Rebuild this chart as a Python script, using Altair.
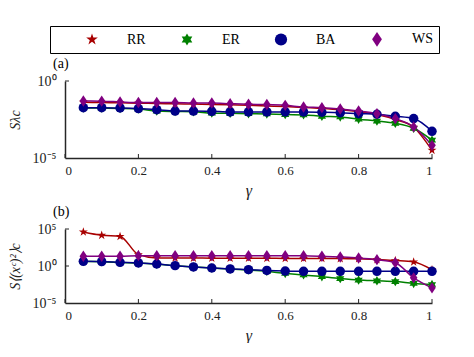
import altair as alt
import pandas as pd

gamma = [0.05, 0.10, 0.15, 0.20, 0.25, 0.30, 0.35, 0.40, 0.45, 0.50,
         0.55, 0.60, 0.65, 0.70, 0.75, 0.80, 0.85, 0.90, 0.95, 1.00]
series = ["RR", "ER", "BA", "WS"]
colors = ["#A80000", "#008000", "#000088", "#800080"]
star5 = ("M0,-1L0.225,-0.309L0.951,-0.309L0.363,0.118L0.588,0.809L0,0.382"
         "L-0.588,0.809L-0.363,0.118L-0.951,-0.309L-0.225,-0.309Z")
hexagram = ("M0,-1L0.289,-0.5L0.866,-0.5L0.577,0L0.866,0.5L0.289,0.5L0,1"
            "L-0.289,0.5L-0.866,0.5L-0.577,0L-0.866,-0.5L-0.289,-0.5Z")
tall_diamond = "M0,-1.2L0.8,0L0,1.2L-0.8,0Z"
shapes = [star5, hexagram, "circle", tall_diamond]

# panel (a): log10 of S_lambda_c
a_RR = [-1.38, -1.40, -1.42, -1.44, -1.46, -1.48, -1.50, -1.52, -1.55, -1.58,
        -1.62, -1.66, -1.72, -1.78, -1.86, -1.98, -2.18, -2.50, -3.00, -4.50]
a_ER = [-1.75, -1.76, -1.78, -1.82, -1.95, -1.98, -2.00, -2.08, -2.10, -2.12,
        -2.14, -2.18, -2.20, -2.29, -2.33, -2.48, -2.60, -2.75, -3.07, -3.84]
a_BA = [-1.73, -1.73, -1.75, -1.79, -1.86, -1.95, -1.95, -1.97, -2.01, -2.01,
        -2.01, -2.01, -2.01, -2.03, -2.06, -2.12, -2.16, -2.29, -2.44, -3.27]
a_WS = [-1.30, -1.31, -1.36, -1.40, -1.40, -1.40, -1.43, -1.43, -1.47, -1.51,
        -1.53, -1.58, -1.69, -1.73, -1.82, -1.95, -2.12, -2.44, -2.98, -4.18]

# panel (b): log10 of S_<(x^c)^2>_c
b_RR = [4.60, 4.15, 4.00, 1.54, 1.09, 1.08, 1.07, 1.06, 1.05, 1.05,
        1.04, 1.03, 1.02, 1.01, 1.00, 0.98, 0.86, 0.73, 0.54, -0.50]
b_ER = [0.60, 0.58, 0.48, 0.40, 0.25, 0.05, -0.13, -0.27, -0.42, -0.55,
        -0.72, -1.00, -1.20, -1.45, -1.70, -1.90, -2.00, -2.10, -2.35, -2.50]
b_BA = [0.63, 0.60, 0.50, 0.41, 0.27, 0.05, -0.13, -0.27, -0.40, -0.49,
        -0.60, -0.68, -0.72, -0.72, -0.72, -0.72, -0.72, -0.72, -0.72, -0.72]
b_WS = [1.31, 1.31, 1.31, 1.40, 1.40, 1.40, 1.40, 1.40, 1.40, 1.40,
        1.40, 1.40, 1.38, 1.31, 1.22, 1.09, 0.86, 0.45, -1.60, -2.95]

x_ticks = [0, 0.2, 0.4, 0.6, 0.8, 1]
FONT = "Liberation Serif"
AXC = "#262626"


def frame(cols):
    rows = []
    for name, vals in zip(series, cols):
        for g, v in zip(gamma, vals):
            rows.append({"gamma": g, "series": name, "val": 10 ** v})
    return pd.DataFrame(rows)


df_a = frame([a_RR, a_ER, a_BA, a_WS])
df_b = frame([b_RR, b_ER, b_BA, b_WS])

label_expr = "datum.value >= 99999 ? '10⁵' : (datum.value >= 0.99 ? '10⁰' : '10⁻⁵')"


def panel(df, ydom, yvals, ytitle, label, h):
    xenc = alt.X("gamma:Q", scale=alt.Scale(domain=[0, 1], nice=False),
                 axis=alt.Axis(values=x_ticks, format="~g", title="γ", ticks=False,
                               labelPadding=6, titlePadding=5, titleFontSize=16,
                               titleFontWeight="normal", titleFontStyle="italic",
                               labelFontSize=13, grid=False))
    yenc = alt.Y("val:Q", scale=alt.Scale(type="log", domain=ydom, nice=False),
                 axis=alt.Axis(values=yvals, labelExpr=label_expr, title=ytitle,
                               ticks=False, labelPadding=9, titlePadding=10,
                               titleFontSize=14, titleFontWeight="normal",
                               titleFontStyle="italic", labelFontSize=14, grid=False))
    color = alt.Color("series:N", scale=alt.Scale(domain=series, range=colors),
                      legend=alt.Legend(title="MM", titleOrient="left", titleColor="white",
                                        titleFont=FONT, titleFontSize=14, titlePadding=2,
                                        orient="none", legendX=-15, legendY=-55,
                                        direction="horizontal", columns=4,
                                        strokeColor="black",
                                        fillColor="white",
                                        padding=6, labelOffset=28, columnPadding=34,
                                        symbolSize=150, labelFont=FONT, labelFontSize=14,
                                        symbolStrokeWidth=0))
    shape = alt.Shape("series:N", scale=alt.Scale(domain=series, range=shapes))
    base = alt.Chart(df)
    lines = base.mark_line(interpolate="monotone", strokeWidth=1.5).encode(
        x=xenc, y=yenc, color=color)
    pts = base.mark_point(filled=True, size=90, opacity=1).encode(
        x=xenc, y=yenc, color=color, shape=shape)
    xt = alt.Chart(pd.DataFrame({"gamma": x_ticks})).mark_rule(color=AXC, strokeWidth=1).encode(
        x=xenc, y=alt.value(h), y2=alt.value(h - 4))
    yt = alt.Chart(pd.DataFrame({"val": yvals[1:]})).mark_rule(
        color=AXC, strokeWidth=1).encode(y=yenc, x=alt.value(0), x2=alt.value(4))
    return alt.layer(lines, pts, xt, yt).properties(
        width=367, height=h,
        title=alt.TitleParams(label, anchor="start", font=FONT, fontSize=14,
                              fontWeight="normal", offset=3, dx=45))


pa = panel(df_a, [1e-5, 1], [1e-5, 1], "Sλc", "(a)", 77)
pb = panel(df_b, [1e-5, 1e5], [1e-5, 1, 1e5], "S⟨(xᶜ)²⟩c", "(b)", 74)

chart = alt.vconcat(pa, pb, spacing=71, bounds="flush").resolve_scale(
    color="shared", shape="shared").properties(
    padding={"left": 0, "top": 17, "right": 0, "bottom": 0}
).configure_axis(
    labelFont=FONT, titleFont=FONT, domainColor=AXC, domainWidth=1.5,
    labelColor="#222", titleColor="#222"
).configure_view(stroke=None)

chart.save("out.html", embed_options={"renderer": "svg", "actions": False})
